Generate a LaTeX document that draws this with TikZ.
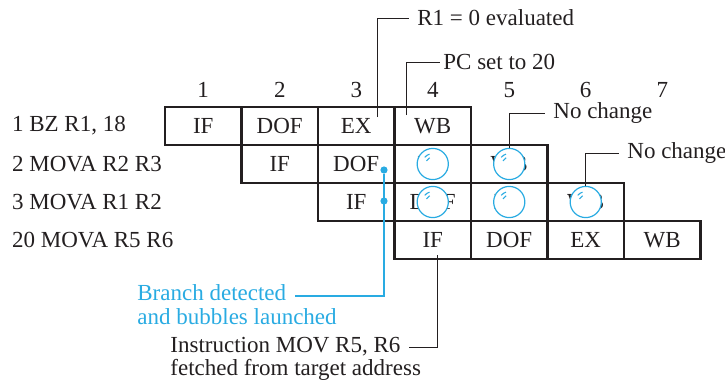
\documentclass[tikz,border=0pt]{standalone}
\usepackage{fontspec}
\setmainfont{Liberation Serif}
\usetikzlibrary{positioning,calc}
\definecolor{inkgray}{RGB}{35,31,32}
\definecolor{bubbleblue}{RGB}{41,171,226}

\tikzset{
  stage/.style={draw=inkgray, line width=1.4pt, minimum width=38.25pt, minimum height=19pt, inner sep=0pt},
  bubble/.style={circle, draw=bubbleblue, line width=0.6pt, fill=white, minimum size=15.6pt, inner sep=0pt,
    path picture={
      \draw[bubbleblue, line width=0.55pt]
        ($(path picture bounding box.center)+(108:5.2pt)$) arc[start angle=108, end angle=140, radius=5.2pt]
        ($(path picture bounding box.center)+(116:3.5pt)$) arc[start angle=116, end angle=154, radius=3.5pt];
    }},
  launch/.style={circle, fill=bubbleblue, inner sep=0pt, minimum size=3.6pt},
  note/.style={anchor=west, inner xsep=4pt, inner ysep=1pt, text=inkgray},
  leader/.style={draw=inkgray, line width=0.5pt},
}

\begin{document}
\begin{tikzpicture}[x=0.5pt, y=-0.5pt, font=\fontsize{11.5}{12}\selectfont, text=inkgray]
  \useasboundingbox (0,0) rectangle (725,381);

  % clock cycles
  \foreach \c in {1,...,7}
    \node (n\c) at ({126.75+76.5*\c},90) {\c};

  % instructions
  \node[anchor=west] (i1) at (5,126) {1 BZ R1, 18};
  \node[anchor=west] (i2) at (5,164) {2 MOVA R2 R3};
  \node[anchor=west] (i3) at (5,202) {3 MOVA R1 R2};
  \node[anchor=west] (i4) at (5,240) {20 MOVA R5 R6};

  % pipeline stages
  \foreach \r in {1,...,4}
    \foreach \t [count=\k] in {IF,DOF,EX,WB} {
      \pgfmathtruncatemacro\c{\k+\r-1}
      \node[stage] (s\r\c) at ({126.75+76.5*\c},{88+38*\r}) {\t};
    }

  % bubbles
  \node[bubble] (b24) at (s24) {};
  \node[bubble] (b25) at (s25) {};
  \node[bubble] (b34) at (s34) {};
  \node[bubble] (b35) at (s35) {};
  \node[bubble] (b36) at (s36) {};

  % notes
  \coordinate (evalpt) at (377,117);
  \coordinate (pcpt) at (406,115);
  \coordinate (fetchpt) at (437,255);
  \node[note] (evaltxt) at (409,18) {R1 = 0 evaluated};
  \node[note, inner xsep=1.5pt] (pctxt) at (440,62) {PC set to 20};
  \node[note] (nc1) at (545,113) {No change};
  \node[note] (nc2) at (619,153) {No change};
  \node[note, text=bubbleblue] (br1) at (129,293) {Branch detected};
  \node[note, text=bubbleblue] (br2) at (129,317) {and bubbles launched};
  \node[note] (ins1) at (162,347) {Instruction MOV R5, R6};
  \node[note] (ins2) at (162,370) {fetched from target address};

  \draw[leader] (evalpt) |- (evaltxt.west);
  \draw[leader] (pcpt) |- (pctxt.west);
  \draw[leader] (b25.north) |- (nc1.west);
  \draw[leader] (b36.north) |- (nc2.west);
  \draw[leader] (fetchpt) |- (ins1.east);

  % branch detected
  \node[launch] (d1) at (384,170) {};
  \node[launch] (d2) at (384,201) {};
  \draw[bubbleblue, line width=0.7pt] (d1) |- ([yshift=-1.5pt]br1.east);
\end{tikzpicture}
\end{document}
